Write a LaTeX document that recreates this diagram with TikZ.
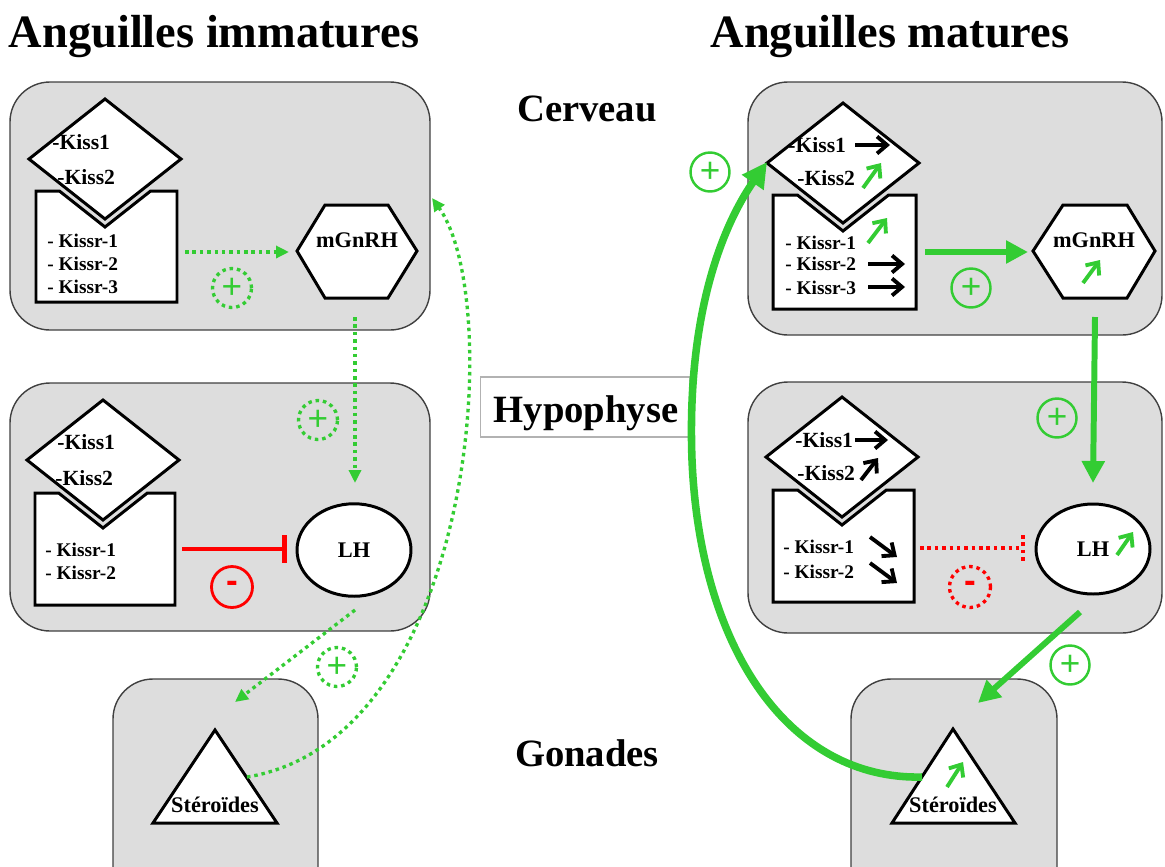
\documentclass[tikz,border=0pt]{standalone}
\usepackage{fontspec}
\setmainfont{Liberation Serif}
\setsansfont{Liberation Sans}
\usetikzlibrary{arrows.meta,shapes.geometric}
\definecolor{gr}{RGB}{51,204,51}
\definecolor{boxgray}{RGB}{221,221,221}
\definecolor{rd}{RGB}{255,0,0}
% diamond + notched receptor box: cx, cy, left, right, top, bottom
\newcommand\kissgrp[6]{%
  \draw[shp] (#3,#5) -- ({#1-(#2+68-#5)*76/60},#5) -- (#1,{#2+68}) -- ({#1+(#2+68-#5)*76/60},#5) -- (#4,#5) -- (#4,#6) -- (#3,#6) -- cycle;
  \draw[shp] ({#1-76},#2) -- (#1,{#2-60}) -- ({#1+76},#2) -- (#1,{#2+60}) -- cycle;
}
\begin{document}
\begin{tikzpicture}[x=0.02cm,y=-0.02cm,
  region/.style={draw=black!75, line width=0.8pt, fill=boxgray, rounded corners=0.8cm},
  shp/.style={draw=black, line width=1.7pt, fill=white, line join=miter},
  hdr/.style={font=\bfseries\fontsize{26.4}{30}\selectfont, inner sep=0pt, anchor=base},
  secl/.style={font=\bfseries\fontsize{22}{26}\selectfont, inner sep=0pt, anchor=base},
  kiss/.style={font=\bfseries\fontsize{12.3}{15}\selectfont, inner sep=0pt, anchor=west},
  kissr/.style={font=\bfseries\fontsize{11}{13}\selectfont, inner sep=0pt, anchor=west},
  hormone/.style={font=\bfseries\fontsize{12.7}{15}\selectfont, inner sep=0pt},
  gthick/.style={draw=gr, line width=3.4pt, -{Triangle[length=0.44cm,width=0.44cm]}},
  gdot/.style={draw=gr, line width=1.9pt, dash pattern=on 2pt off 2.2pt, -{Triangle[length=0.26cm,width=0.24cm]}},
  plusc/.style={circle, draw=gr, line width=1.4pt, minimum size=0.78cm, inner sep=0pt, text=gr, font=\sffamily\fontsize{20}{20}\selectfont},
  plusd/.style={plusc, line width=1.9pt, dash pattern=on 2pt off 2.2pt},
  minc/.style={circle, draw=rd, line width=1.6pt, minimum size=0.82cm, inner sep=0pt, text=rd, font=\sffamily\bfseries\fontsize{20}{20}\selectfont},
  mind/.style={minc, line width=1.9pt, dash pattern=on 2pt off 2.2pt},
  sarr/.style={line width=2.2pt, -{Straight Barb[length=0.2cm,width=0.34cm]}},
  lhshape/.style={shp, ellipse, hormone, minimum width=2.28cm, minimum height=1.85cm}
]
\path[use as bounding box, clip] (0,0) rectangle (1165,866);

% ---------- regions ----------
\draw[region] (10,82) rectangle (430,330);
\draw[region] (10,383) rectangle (430,631);
\draw[region] (113,679) rectangle (318,930);
\draw[region] (748,82) rectangle (1162,335);
\draw[region] (748,382) rectangle (1162,633);
\draw[region] (851,679) rectangle (1057,930);

% ---------- titles ----------
\node[hdr] (h1) at (214,47) {Anguilles immatures};
\node[hdr] (h2) at (890,47) {Anguilles matures};
\node[secl] (cerv) at (587,121) {Cerveau};
\node[draw=black!30, line width=0.6pt, fill=white, minimum width=4.2cm, minimum height=1.2cm] (hypobox) at (585,407) {};
\node[secl] (hypo) at (586,422) {Hypophyse};
\node[secl] (gon) at (587,766) {Gonades};

% ================= LEFT: immatures =================
% brain
\kissgrp{105}{159}{36}{177}{191}{302}
\node[kiss] (lk1) at (52,142) {-Kiss1};
\node[kiss] (lk2) at (57,177) {-Kiss2};
\node[kissr] (lr1) at (47,241) {- Kissr-1};
\node[kissr] (lr2) at (47,264) {- Kissr-2};
\node[kissr] (lr3) at (47,287) {- Kissr-3};
\draw[shp] (297,251) -- (325,205) -- (388,205) -- (417,251) -- (388,298) -- (325,298) -- cycle;
\node[hormone] (lgn) at (357,240) {mGnRH};
\coordinate (lrecE) at (185,252);
\coordinate (lhexW) at (289,252);
\coordinate (lhexS) at (355,317);
\draw[gdot] (lrecE) -- (lhexW);
\node[plusd] (lp1) at (232,288) {+};

% pituitary
\kissgrp{103}{460}{35}{175}{493}{605}
\node[kiss] (lk3) at (57,442) {-Kiss1};
\node[kiss] (lk4) at (55,478) {-Kiss2};
\node[kissr] (lr4) at (45,550) {- Kissr-1};
\node[kissr] (lr5) at (45,573) {- Kissr-2};
\node[lhshape] (lh1) at (354,550) {LH};
\coordinate (lh1top) at (355,483);
\draw[gdot] (lhexS) -- (lh1top);
\node[plusd] (lp2) at (318,420) {+};
\coordinate (linhS) at (182,549);
\coordinate (linhE) at (287,549);
\draw[draw=rd, line width=2.8pt, -{Bar[width=0.56cm]}] (linhS) -- (linhE);
\node[minc] (lm1) at (232,587) {-};

% gonads
\draw[shp] (215,730) -- (277,823) -- (153,823) -- cycle;
\node[hormone, anchor=base] (lst) at (215,812) {Stéroïdes};
\coordinate (lh1out) at (355,610);
\coordinate (lgonIn) at (235,702);
\draw[gdot] (lh1out) -- (lgonIn);
\node[plusd] (lp3) at (337,667) {+};
\coordinate (lstR) at (247,777);
\coordinate (lbrainE) at (432,198);
\draw[gdot] (lstR) .. controls (475,740) and (505,300) .. (lbrainE);

% ================= RIGHT: matures =================
% brain
\kissgrp{843}{163}{773}{916}{195}{309}
\node[kiss] (rk1) at (788,145) {-Kiss1};
\node[kiss] (rk2) at (797,178) {-Kiss2};
\node[kissr] (rr1) at (785,243) {- Kissr-1};
\node[kissr] (rr2) at (785,264) {- Kissr-2};
\node[kissr] (rr3) at (785,288) {- Kissr-3};
\draw[sarr, black] (855,145) -- (890,145);
\draw[sarr, gr] (863,188) -- (881,163);
\draw[sarr, gr] (868,243) -- (887,218);
\draw[sarr, black] (868,264) -- (905,264);
\draw[sarr, black] (868,287) -- (905,287);
\draw[shp] (1033,251) -- (1063,205) -- (1127,205) -- (1155,251) -- (1127,298) -- (1063,298) -- cycle;
\node[hormone] (rgn) at (1094,240) {mGnRH};
\draw[sarr, gr] (1083,283) -- (1100,260);
\coordinate (rrecE) at (925,252);
\coordinate (rhexW) at (1028,252);
\coordinate (rhexS) at (1095,317);
\draw[gthick] (rrecE) -- (rhexW);
\node[plusc] (rp1) at (971,288) {+};

% pituitary
\kissgrp{842}{457}{773}{914}{490}{602}
\node[kiss] (rk3) at (795,440) {-Kiss1};
\node[kiss] (rk4) at (797,473) {-Kiss2};
\node[kissr] (rr4) at (783,547) {- Kissr-1};
\node[kissr] (rr5) at (783,572) {- Kissr-2};
\draw[sarr, black] (855,440) -- (888,440);
\draw[sarr, black] (861,480) -- (878,458);
\draw[sarr, black] (870,537) -- (897,557);
\draw[sarr, black] (870,563) -- (897,583);
\node[lhshape, minimum height=1.8cm] (lh2) at (1093,549) {LH};
\draw[sarr, gr] (1117,555) -- (1133,532);
\coordinate (lh2top) at (1093,483);
\draw[gthick] (rhexS) -- (lh2top);
\node[plusc] (rp2) at (1057,418) {+};
\coordinate (rinhS) at (920,548);
\coordinate (rinhE) at (1021,548);
\draw[draw=rd, line width=1.9pt, dash pattern=on 2pt off 2.2pt] (rinhS) -- (rinhE);
\draw[draw=rd, line width=1.9pt, dash pattern=on 2pt off 2.2pt] (1023,535) -- (1023,563);
\node[mind] (rm1) at (970,587) {-};

% gonads
\draw[shp] (953,729) -- (1015,823) -- (892,823) -- cycle;
\node[hormone, anchor=base] (rst) at (953,812) {Stéroïdes};
\draw[sarr, gr] (947,787) -- (963,762);
\coordinate (lh2out) at (1080,612);
\coordinate (rgonIn) at (978,703);
\draw[gthick] (lh2out) -- (rgonIn);
\node[plusc] (rp3) at (1070,665) {+};
\coordinate (rstL) at (922,777);
\coordinate (rdiaW) at (767,162);
\draw[draw=gr, line width=4.3pt, -{Triangle[length=0.5cm,width=0.5cm]}] (rstL) .. controls (790,780) and (700,650) .. (692,460) .. controls (686,300) and (730,215) .. (rdiaW);
\node[plusc] (rp4) at (710,172) {+};
\end{tikzpicture}
\end{document}
